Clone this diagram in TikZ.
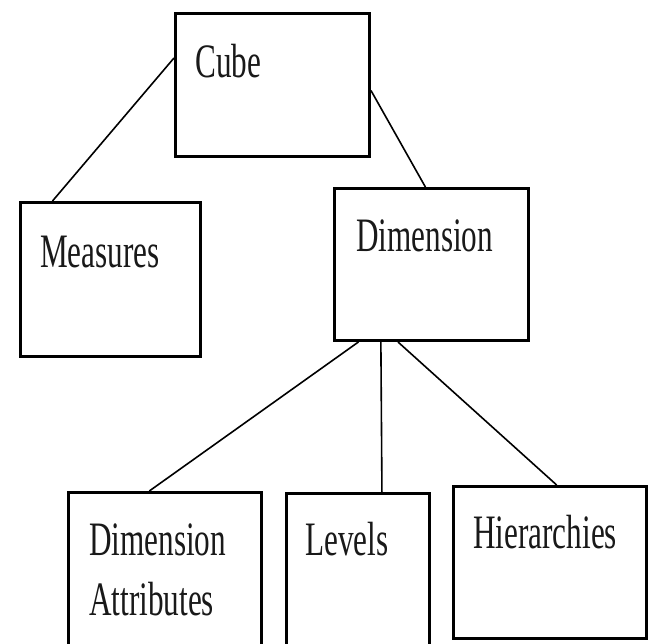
\documentclass[tikz,border=0pt]{standalone}
\usepackage{fontspec}
\setmainfont{Liberation Serif}
\usetikzlibrary{calc}
\tikzset{
  boxnode/.style={draw=black, line width=3pt, rectangle, inner sep=0pt, anchor=north west},
  lbl/.style={anchor=base west, inner sep=0pt, font=\fontsize{48}{48}\selectfont, text=black!90},
  conn/.style={draw=black, line width=1.6pt}
}
\newcommand{\sq}[1]{\scalebox{0.65}[1]{#1}}
\begin{document}
\begin{tikzpicture}[x=1pt,y=-1pt]
\clip (0,0) rectangle (650,643);
\fill[white] (0,0) rectangle (650,643);
% boxes
\node[boxnode, minimum width=194pt, minimum height=143pt] (cube) at (174,12) {};
\node[boxnode, minimum width=180pt, minimum height=154pt] (measures) at (19,201) {};
\node[boxnode, minimum width=194pt, minimum height=152pt] (dim) at (333,187) {};
\node[boxnode, minimum width=193pt, minimum height=170pt] (dimattr) at (67,491) {};
\node[boxnode, minimum width=143pt, minimum height=170pt] (levels) at (285,492) {};
\node[boxnode, minimum width=193pt, minimum height=152pt] (hier) at (452,485) {};
% labels
\node[lbl] (tcube) at (195,77) {\sq{Cube}};
\node[lbl] (tmeasures) at (40,267) {\sq{Measures}};
\node[lbl] (tdim) at (356,251) {\sq{Dimension}};
\node[lbl] (tdimattrA) at (89,555) {\sq{Dimension}};
\node[lbl] (tdimattrB) at (89,615) {\sq{Attributes}};
\node[lbl] (tlevels) at (305,555) {\sq{Levels}};
\node[lbl] (thier) at (473,548) {\sq{Hierarchies}};
% connectors
\draw[conn] ($(cube.north west)!0.315!(cube.south west)$) -- ($(measures.north west)!0.183!(measures.north east)$);
\draw[conn] ($(cube.north east)!0.538!(cube.south east)$) -- ($(dim.north west)!0.469!(dim.north east)$);
\draw[conn] ($(dim.south west)!0.129!(dim.south east)$) -- ($(dimattr.north west)!0.42!(dimattr.north east)$);
\draw[conn] ($(dim.south west)!0.243!(dim.south east)$) -- ($(levels.north west)!0.664!(levels.north east)$);
\draw[conn] ($(dim.south west)!0.33!(dim.south east)$) -- ($(hier.north west)!0.534!(hier.north east)$);
\end{tikzpicture}
\end{document}
